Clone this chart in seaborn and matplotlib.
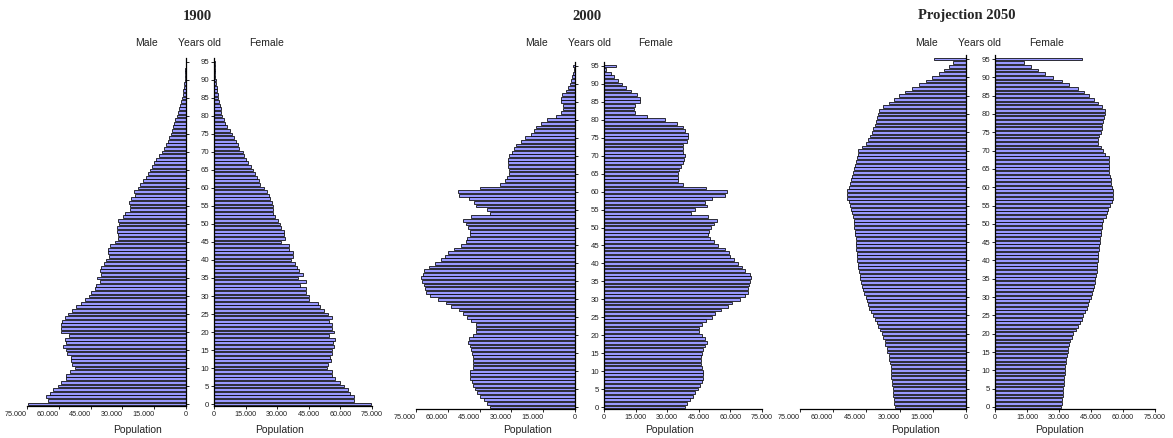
import matplotlib
matplotlib.use("Agg")
import matplotlib.pyplot as plt
from matplotlib.ticker import FuncFormatter, MultipleLocator
import seaborn as sns

ages = list(range(0, 96))

male_1900 = [74700, 65100, 66000, 64300, 62700, 60500, 58900, 56700, 56700, 54900,
             52500, 53600, 54200, 54400, 56300, 56700, 57800, 56700, 57200, 55000,
             59100, 59100, 58800, 58500, 57200, 55500, 53900, 51700, 49500, 47600,
             45700, 44800, 43100, 42400, 40700, 42000, 39900, 40700, 40100, 38500,
             37600, 36500, 36600, 36800, 36000, 33600, 32200, 32200, 32500, 32500,
             31400, 32200, 29700, 28900, 26300, 26600, 26900, 26000, 24000, 24700,
             22800, 21500, 20200, 18900, 17900, 16800, 15900, 14900, 14000, 12800,
             11500, 10400, 9400, 8700, 7900, 7100, 6600, 6000, 5500, 5000,
             4400, 3800, 3300, 2600, 2200, 1800, 1500, 1200, 1000, 800,
             600, 500, 400, 300, 200, 200]
female_1900 = [74500, 66600, 66600, 64600, 63400, 61800, 59900, 57300, 56200, 55900,
               53800, 54300, 55400, 55100, 56200, 55900, 57000, 56700, 57300, 54600,
               57000, 56200, 55900, 54600, 56200, 54300, 52200, 50300, 49300, 45000,
               45000, 43900, 43900, 40700, 43900, 39700, 42100, 40200, 39400, 38600,
               36700, 37500, 37500, 35400, 35400, 31900, 33800, 33400, 33000, 31900,
               31100, 30300, 29000, 28200, 27900, 28200, 27500, 26700, 25900, 25100,
               23800, 22000, 21200, 20300, 19500, 18700, 17700, 16000, 15200, 14400,
               13600, 11700, 11300, 10400, 9600, 8600, 7500, 6400, 5300, 4600,
               4000, 3500, 3100, 2700, 2300, 1900, 1700, 1400, 1200, 1000,
               800, 600, 500, 400, 300, 300]
male_2000 = [40000, 41300, 42700, 44700, 46000, 47100, 47900, 48600, 49400, 49700,
             49400, 48300, 48200, 47900, 48200, 48800, 49100, 49700, 50700, 50200,
             48300, 46800, 46600, 46900, 49100, 51100, 52600, 54900, 58400, 61000,
             64800, 68600, 70300, 70800, 71400, 72200, 72500, 71900, 71100, 68700,
             65900, 63100, 61500, 60100, 57300, 54000, 51600, 51000, 49300, 49400,
             50700, 51600, 52900, 49100, 40300, 41300, 46600, 47600, 49800, 54600,
             55100, 45000, 35300, 32800, 32000, 31000, 31000, 31400, 31400, 31400,
             31200, 29800, 28600, 27600, 25400, 23500, 20700, 19500, 18200, 16000,
             13000, 9100, 6400, 5600, 5700, 6800, 6800, 6000, 4400, 3500,
             2500, 1800, 1200, 800, 500, 1000]
female_2000 = [38300, 39200, 40800, 42100, 43200, 44500, 45600, 46700, 47200, 47200,
               46900, 46400, 45900, 45900, 45900, 46400, 47200, 48000, 48800, 48000,
               46700, 45300, 45300, 46400, 48500, 51200, 52800, 55600, 58800, 60700,
               64400, 67100, 68200, 68300, 69000, 69400, 69900, 69100, 67100, 65500,
               63600, 61500, 59900, 59100, 57200, 54000, 52000, 50400, 49600, 49900,
               50700, 52000, 53600, 49300, 41300, 43400, 48800, 48000, 51500, 57200,
               58300, 48500, 37700, 35300, 35300, 35300, 35800, 36500, 37300, 38000,
               38300, 37700, 37300, 37700, 39600, 40000, 39700, 38300, 37700, 34800,
               29100, 20200, 14900, 14300, 14900, 17000, 17300, 15700, 12600, 10600,
               8700, 6700, 4800, 3500, 1100, 5600]
male_2050 = [32000, 32400, 32700, 32900, 33000, 33200, 33300, 33500, 33700, 33800,
             34000, 34100, 34400, 34700, 35000, 35500, 35900, 36400, 36800, 37300,
             38000, 38800, 39700, 40400, 41300, 42100, 42900, 43600, 44200, 44800,
             45400, 46000, 46500, 46900, 47400, 47800, 48100, 48400, 48700, 49000,
             49200, 49300, 49300, 49500, 49600, 49800, 49900, 50100, 50300, 50400,
             50600, 50700, 51000, 51400, 51900, 52400, 53000, 53600, 53900, 53600,
             53000, 52400, 51900, 51500, 50900, 50600, 50300, 49800, 49300, 49000,
             48600, 46800, 45100, 44100, 43300, 42600, 41800, 41200, 40700, 40300,
             39800, 39100, 37300, 35000, 32700, 30200, 27500, 24400, 21400, 18100,
             15400, 12400, 10100, 7800, 5900, 14600]
female_2050 = [30900, 31300, 31400, 31700, 31900, 32000, 32200, 32300, 32500, 32700,
               32800, 33000, 33100, 33300, 33600, 34100, 34400, 34800, 35300, 35900,
               36700, 37800, 38800, 39700, 40600, 41400, 42200, 43000, 43600, 44200,
               44800, 45300, 45800, 46300, 46700, 47000, 47300, 47700, 47800, 48000,
               48100, 48300, 48400, 48800, 48900, 49200, 49400, 49500, 49700, 50000,
               50200, 50800, 51900, 52500, 53100, 53900, 54700, 55200, 55500, 55200,
               54700, 54400, 54200, 53900, 53600, 53600, 53600, 53600, 53600, 51600,
               50500, 49500, 48400, 48400, 48900, 49500, 50000, 50300, 50800, 51100,
               51600, 51600, 50300, 48400, 46400, 44200, 41700, 38800, 34800, 31300,
               27300, 23400, 20000, 16900, 13800, 40600]

titles = ["1900", "2000", "Projection 2050"]
x_ticks = [0, 15000, 30000, 45000, 60000, 75000]

W, H = 1173, 438
sns.set_style("white")
plt.rcParams["font.family"] = ["Liberation Sans", "DejaVu Sans"]

fig = plt.figure(figsize=(W / 100, H / 100), dpi=100)

def rect(x0, x1, yb, yt):
    return [x0 / W, 1 - yb / H, (x1 - x0) / W, (yb - yt) / H]

layout = [
    dict(m=(27, 186), f=(214, 372), y=(406, 58), title=197, male=147, yo=200, fem=267, pm=137, pf=279),
    dict(m=(416, 575), f=(604, 762), y=(409, 62), title=587, male=537, yo=589, fem=656, pm=527, pf=669),
    dict(m=(800, 966), f=(995, 1155), y=(409, 55), title=967, male=926, yo=980, fem=1047, pm=916, pf=1060),
]
data = [(male_1900, female_1900), (male_2000, female_2000), (male_2050, female_2050)]

fmt = FuncFormatter(lambda v, p: f"{int(round(v)):,}".replace(",", "."))
bar_color = "#9999FF"

for lay, (mv, fv), title in zip(layout, data, titles):
    y0, y1 = lay["y"]
    axm = fig.add_axes(rect(*lay["m"], y0, y1))
    axf = fig.add_axes(rect(*lay["f"], y0, y1))
    for ax, vals in ((axm, mv), (axf, fv)):
        sns.barplot(x=vals, y=ages, orient="y", native_scale=True, color=bar_color,
                    saturation=1, edgecolor="black", linewidth=0.55, width=0.78,
                    errorbar=None, ax=ax)
        ax.set_ylim(-0.55, 96.1)
        ax.set_xlabel("")
        ax.set_ylabel("")
        ax.set_xticks(x_ticks)
        ax.xaxis.set_major_formatter(fmt)
        ax.yaxis.set_major_locator(MultipleLocator(5))
        ax.tick_params(axis="both", direction="out", length=2, width=0.6, color="black",
                       labelsize=5.2, pad=1.5, labelcolor="#222222")
        ax.tick_params(axis="x", bottom=True)
        ax.tick_params(axis="y", labelsize=5.6)
        for s in ax.spines.values():
            s.set_color("black")
            s.set_linewidth(0.9)
        ax.spines["top"].set_visible(False)
        ax.set_facecolor("white")
    axm.set_xlim(75000, 0)
    axf.set_xlim(0, 75000)
    axm.spines["left"].set_visible(False)
    axf.spines["right"].set_visible(False)
    axm.yaxis.tick_right()
    axm.tick_params(axis="y", labelright=False, right=True, left=False)
    axf.tick_params(axis="y", left=True, labelleft=True)
    for lab in axm.get_xticklabels():
        if lab.get_text() != "0":
            lab.set_horizontalalignment("right")

    fig.text(lay["title"] / W, 1 - 16 / H, title, ha="center", va="center",
             fontsize=10.5, fontweight="bold", family="Liberation Serif")
    for key, txt in (("male", "Male"), ("yo", "Years old"), ("fem", "Female")):
        fig.text(lay[key] / W, 1 - 43 / H, txt, ha="center", va="center",
                 fontsize=7.5, color="#222222")
    for key in ("pm", "pf"):
        fig.text(lay[key] / W, 1 - 430 / H, "Population", ha="center", va="center",
                 fontsize=7.5, color="#222222")

fig.savefig("out.png", dpi=100, facecolor="white")
